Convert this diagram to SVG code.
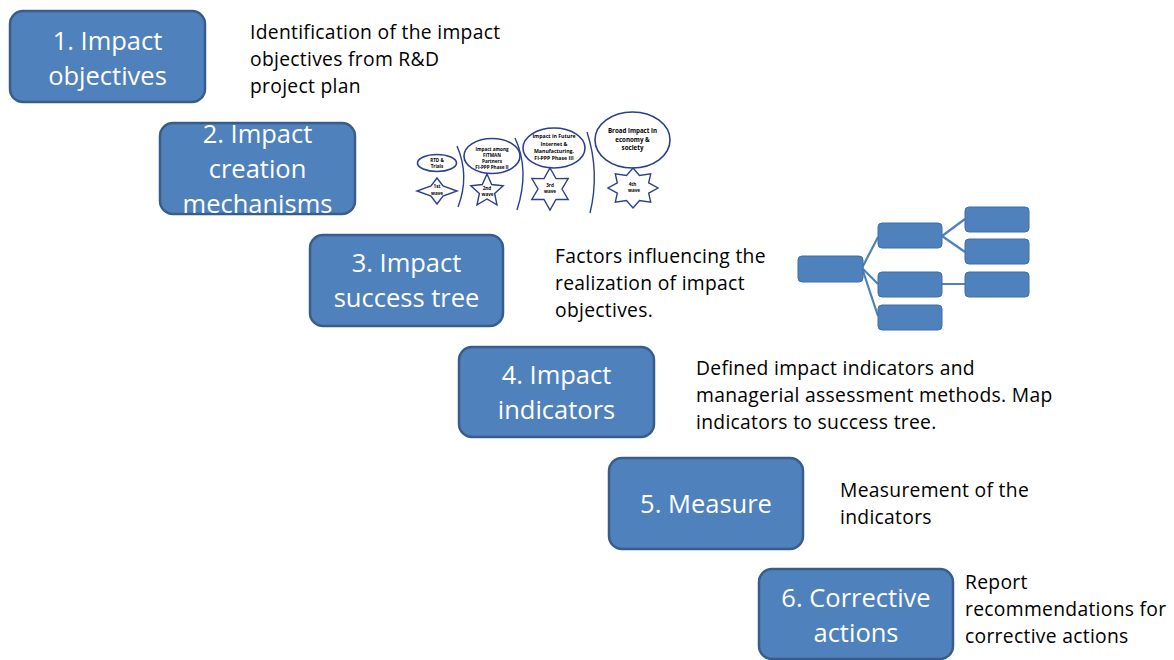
<svg xmlns="http://www.w3.org/2000/svg" width="1174" height="660" viewBox="0 0 1174 660">
<style>
.box{fill:#4F81BD;stroke:#385D8A;stroke-width:2.5}
.bt{font-family:"Open Sans",Lato,sans-serif;font-size:25.5px;fill:#fff;text-anchor:middle}
.st{font-family:"Open Sans",Lato,sans-serif;font-size:19.3px;letter-spacing:0.3px;fill:#000}
.ell{fill:#fff;stroke:#2B3F8C;stroke-width:1.6}
.star{fill:#fff;stroke:#2B3F8C;stroke-width:1.4}
.br{fill:none;stroke:#2B3F8C;stroke-width:1.4}
.tt{font-family:"Open Sans",sans-serif;font-weight:bold;fill:#000;text-anchor:middle}
.tb{fill:#4F81BD;stroke:#3F6EA8;stroke-width:1}
.tc{stroke:#4F81BD;stroke-width:2.2;fill:none}
</style>
<g id="step1">
<rect class="box" x="10" y="11" width="195" height="91" rx="13"/>
<text class="bt" x="107.5" y="50">1. Impact</text>
<text class="bt" x="107.5" y="85">objectives</text>
<text class="st" x="250" y="39">Identification of the impact</text>
<text class="st" x="250" y="66">objectives from R&amp;D</text>
<text class="st" x="250" y="93">project plan</text>
</g>
<g id="step2">
<rect class="box" x="160" y="123" width="195" height="91" rx="13"/>
<text class="bt" x="257.5" y="143">2. Impact</text>
<text class="bt" x="257.5" y="178">creation</text>
<text class="bt" x="257.5" y="213">mechanisms</text>
</g>
<g id="waves">
<ellipse class="ell" cx="437" cy="163" rx="19.5" ry="8.5"/>
<text class="tt" font-size="4.6" x="437" y="162">RTD &amp;</text>
<text class="tt" font-size="4.6" x="437" y="168">Trials</text>
<polygon class="star" points="437,178 443,186 457,191 443,196 437,204 431,196 417,191 431,186"/>
<text class="tt" font-size="4.6" x="437" y="188">1st</text>
<text class="tt" font-size="4.6" x="437" y="195">wave</text>
<path class="br" d="M457,146 Q470,176 458,207"/>
<ellipse class="ell" cx="492" cy="156" rx="28" ry="17.5"/>
<text class="tt" font-size="4.6" x="492" y="151">Impact among</text>
<text class="tt" font-size="4.6" x="492" y="156.5">FITMAN</text>
<text class="tt" font-size="4.6" x="492" y="163">Partners</text>
<text class="tt" font-size="4.6" x="492" y="169">FI-PPP Phase II</text>
<polygon class="star" points="487,174 491.7,184.5 503.2,185.7 494.6,193.5 497,204.8 487,199 477,204.8 479.4,193.5 470.8,185.7 482.3,184.5"/>
<text class="tt" font-size="4.6" x="487" y="189.5">2nd</text>
<text class="tt" font-size="4.6" x="487.5" y="196">wave</text>
<path class="br" d="M515,138 Q530,170 517,210"/>
<ellipse class="ell" cx="554" cy="148" rx="31" ry="20"/>
<text class="tt" font-size="5.2" x="554" y="138">Impact in Future</text>
<text class="tt" font-size="5.2" x="554" y="146">Internet &amp;</text>
<text class="tt" font-size="5.2" x="554" y="152.5">Manufacturing,</text>
<text class="tt" font-size="5.2" x="554" y="159.5">FI-PPP Phase III</text>
<polygon class="star" points="550,168 556,178.6 568.2,178.5 562,189 568.2,199.5 556,199.4 550,210 544,199.4 531.8,199.5 538,189 531.8,178.5 544,178.6"/>
<text class="tt" font-size="4.6" x="550" y="187">3rd</text>
<text class="tt" font-size="4.6" x="550" y="193">wave</text>
<path class="br" d="M587,132 Q600,172 590,213"/>
<ellipse class="ell" cx="632.5" cy="140" rx="37.5" ry="28"/>
<text class="tt" font-size="6.2" x="632.5" y="133">Broad impact in</text>
<text class="tt" font-size="6.2" x="632.5" y="141.5">economy &amp;</text>
<text class="tt" font-size="6.2" x="632.5" y="150">society</text>
<polygon class="star" points="633,168 639.5,175.4 650.7,173.9 648.7,182.8 658,188 648.7,193.2 650.7,202.1 639.5,200.6 633,208 626.5,200.6 615.3,202.1 617.3,193.2 608,188 617.3,182.8 615.3,173.9 626.5,175.4"/>
<text class="tt" font-size="4.6" x="632.5" y="186">4th</text>
<text class="tt" font-size="4.6" x="634" y="192">wave</text>
</g>
<g id="step3">
<rect class="box" x="310" y="235" width="193" height="91" rx="13"/>
<text class="bt" x="406.5" y="272">3. Impact</text>
<text class="bt" x="406.5" y="307">success tree</text>
<text class="st" x="555" y="263">Factors influencing the</text>
<text class="st" x="555" y="290">realization of impact</text>
<text class="st" x="555" y="317">objectives.</text>
</g>
<g id="connectors">
<path class="tc" d="M862,268 L878,237 M862,268 L878,284 M862,268 L878,316 M942,236 L965,219 M942,236 L965,252 M942,284 L965,284"/>
</g>
<g id="tree">
<rect class="tb" x="798" y="256" width="65" height="26" rx="4"/>
<rect class="tb" x="878" y="223" width="64" height="25" rx="4"/>
<rect class="tb" x="878" y="272" width="64" height="25" rx="4"/>
<rect class="tb" x="878" y="305" width="64" height="25" rx="4"/>
<rect class="tb" x="965" y="207" width="64" height="25" rx="4"/>
<rect class="tb" x="965" y="239" width="64" height="25" rx="4"/>
<rect class="tb" x="965" y="272" width="64" height="25" rx="4"/>
</g>
<g id="step4">
<rect class="box" x="459" y="347" width="195" height="90" rx="13"/>
<text class="bt" x="556.5" y="384">4. Impact</text>
<text class="bt" x="556.5" y="419">indicators</text>
<text class="st" x="696" y="375">Defined impact indicators and</text>
<text class="st" x="696" y="402">managerial assessment methods. Map</text>
<text class="st" x="696" y="429">indicators to success tree.</text>
</g>
<g id="step5">
<rect class="box" x="609" y="458" width="194" height="91" rx="13"/>
<text class="bt" x="706" y="513">5. Measure</text>
<text class="st" x="840" y="497">Measurement of the</text>
<text class="st" x="840" y="524">indicators</text>
</g>
<g id="step6">
<rect class="box" x="759" y="569" width="194" height="90" rx="13"/>
<text class="bt" x="856" y="607">6. Corrective</text>
<text class="bt" x="856" y="642">actions</text>
<text class="st" x="965" y="589">Report</text>
<text class="st" x="965" y="616">recommendations for</text>
<text class="st" x="965" y="643">corrective actions</text>
</g>
</svg>
